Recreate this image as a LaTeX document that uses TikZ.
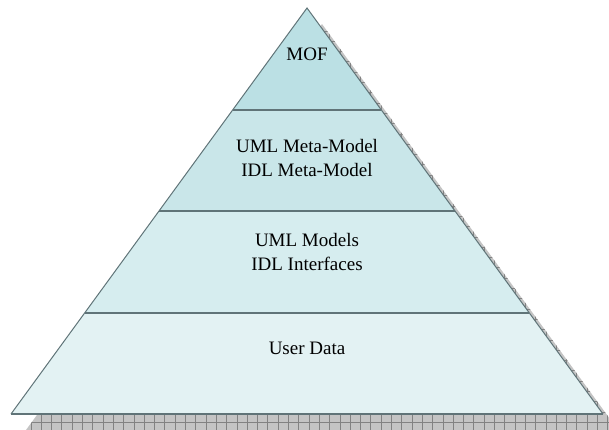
\documentclass[tikz,border=0pt]{standalone}
\usepackage{fontspec}
\setmainfont{Liberation Serif}
\usepackage{tikz}
\usetikzlibrary{calc}
\definecolor{band-a}{RGB}{187, 224, 228}
\definecolor{band-b}{RGB}{201, 230, 233}
\definecolor{band-c}{RGB}{214, 237, 239}
\definecolor{band-d}{RGB}{227, 242, 243}
\definecolor{edge-gray}{RGB}{96, 116, 120}
\definecolor{shadow-gray}{RGB}{196, 196, 196}
\definecolor{grid-gray}{RGB}{130, 130, 130}

\begin{document}
\begin{tikzpicture}[
            x=1pt, y=-1pt,
            every node/.style={inner sep=0pt, align=center, font=\fontsize{19}{24}\selectfont},
            edge/.style={draw=edge-gray, line width=1pt, line join=miter},
            divider/.style={draw=edge-gray, line width=2pt},
        ]
            \useasboundingbox (0,0) rectangle (609,429);
            \coordinate (apex) at (307, 8);
            \coordinate (bl) at (11, 414);
            \coordinate (br) at (603, 414);
            % band boundaries on both edges
            \coordinate (l1) at ($(apex)!0.25!(bl)$);
            \coordinate (r1) at ($(apex)!0.25!(br)$);
            \coordinate (l2) at ($(apex)!0.5!(bl)$);
            \coordinate (r2) at ($(apex)!0.5!(br)$);
            \coordinate (l3) at ($(apex)!0.75!(bl)$);
            \coordinate (r3) at ($(apex)!0.75!(br)$);
            % corners of the shadow
            \coordinate (s-apex) at ($(apex)+(15,16)$);
            \coordinate (s-bl) at ($(bl)+(15,16)$);
            \coordinate (s-br) at ($(br)+(15,16)$);

            % Hatched drop shadow
            \begin{scope}
                \fill[shadow-gray] (s-apex) -- (s-br) -- (s-bl) -- cycle;
                \clip (s-apex) -- (s-br) -- (s-bl) -- cycle;
                \draw[grid-gray, line width=0.8pt, step=10.3pt] (0,0) grid (640,440);
            \end{scope}

            % Pyramid bands, top to bottom
            \fill[band-a] (apex) -- (r1) -- (l1) -- cycle;
            \fill[band-b] (l1) -- (r1) -- (r2) -- (l2) -- cycle;
            \fill[band-c] (l2) -- (r2) -- (r3) -- (l3) -- cycle;
            \fill[band-d] (l3) -- (r3) -- (br) -- (bl) -- cycle;
            \draw[divider] (l1) -- (r1);
            \draw[divider] (l2) -- (r2);
            \draw[divider] (l3) -- (r3);
            \draw[divider] (bl) -- (br);
            \draw[edge] (bl) -- (apex) -- (br);

            \node (mof) at (307, 54.5) {MOF};
            \node (metamodel) at (307, 158) {UML Meta-Model\\IDL Meta-Model};
            \node (models) at (307, 252) {UML Models\\IDL Interfaces};
            \node (userdata) at (307, 348.5) {User Data};
        \end{tikzpicture}
\end{document}
